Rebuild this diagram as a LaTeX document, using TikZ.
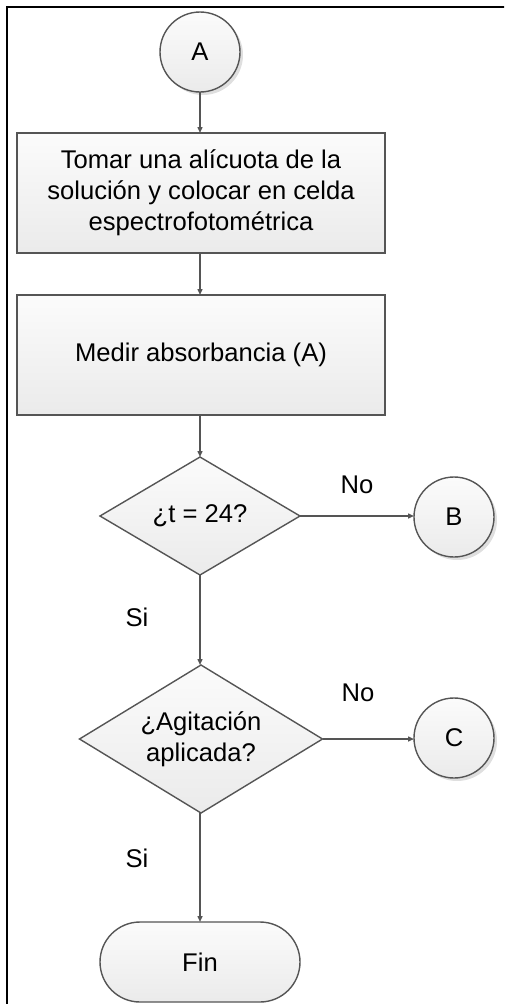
\documentclass[tikz,border=0pt]{standalone}
\usepackage{fontspec}
\setmainfont{Liberation Sans}
\usetikzlibrary{shapes.geometric,shadows,arrows.meta}

\definecolor{edge}{RGB}{85,85,85}
\definecolor{shadegray}{RGB}{150,150,150}

\tikzset{
  shape base/.style={draw=edge, line width=1.4pt, top color=gray!3, bottom color=gray!16,
    inner sep=0pt, outer sep=0pt, align=center,
    font=\fontsize{25.6}{31}\selectfont},
  connector/.style={draw=edge, circle, minimum size=80pt, shape base,
    drop shadow={shadow xshift=3pt, shadow yshift=-3pt, opacity=0.3, fill=shadegray}},
  process/.style={shape base, rectangle, minimum width=368pt, minimum height=120pt},
  decision/.style={shape base, diamond, aspect=1.65},
  terminal/.style={shape base, rectangle, rounded corners=40pt, minimum width=200pt, minimum height=80pt},
  flow/.style={draw=edge, line width=1.4pt, -{Triangle[length=6pt,width=5pt]}},
  lbl/.style={font=\fontsize{25.6}{31}\selectfont, inner sep=0pt}
}

\begin{document}
\begin{tikzpicture}[x=1pt, y=-1pt]
  \useasboundingbox (0,0) rectangle (504,1004);
  \clip (0,0) rectangle (504,1004);

  % outer frame (runs past the right and bottom edges)
  \draw[line width=2.2pt, black] (7.3,1100) -- (7.3,7) -- (620,7);

  % nodes
  \node[connector] (A) at (200,52) {A};
  \node[process] (take) at (201,193) {Tomar una alícuota de la\\solución y colocar en celda\\espectrofotométrica};
  \node[process] (measure) at (201,355) {Medir absorbancia (A)};
  \node[decision, minimum width=200pt, minimum height=118pt] (q1) at (200,516) {¿t = 24?};
  \node[connector] (B) at (454,517) {B};
  \node[decision, minimum width=243pt, minimum height=148pt] (q2) at (201,739) {¿Agitación\\aplicada?};
  \node[connector] (C) at (454,738) {C};
  \node[terminal] (fin) at (200,962) {Fin};

  % connectors
  \draw[flow] (A.south) -- (take.north -| A.south);
  \draw[flow] (take.south -| A.south) -- (measure.north -| A.south);
  \draw[flow] (measure.south -| A.south) -- (q1.north);
  \draw[flow] (q1.east) -- (B.west |- q1.east);
  \draw[flow] (q1.south) -- (q2.north -| q1.south);
  \draw[flow] (q2.east) -- (C.west |- q2.east);
  \draw[flow] (q2.south -| q1.south) -- (fin.north -| q1.south);

  % branch labels
  \node[lbl] (no1) at (357,485) {No};
  \node[lbl] (si1) at (137,617) {Si};
  \node[lbl] (no2) at (358,693) {No};
  \node[lbl] (si2) at (137,858) {Si};
\end{tikzpicture}
\end{document}
